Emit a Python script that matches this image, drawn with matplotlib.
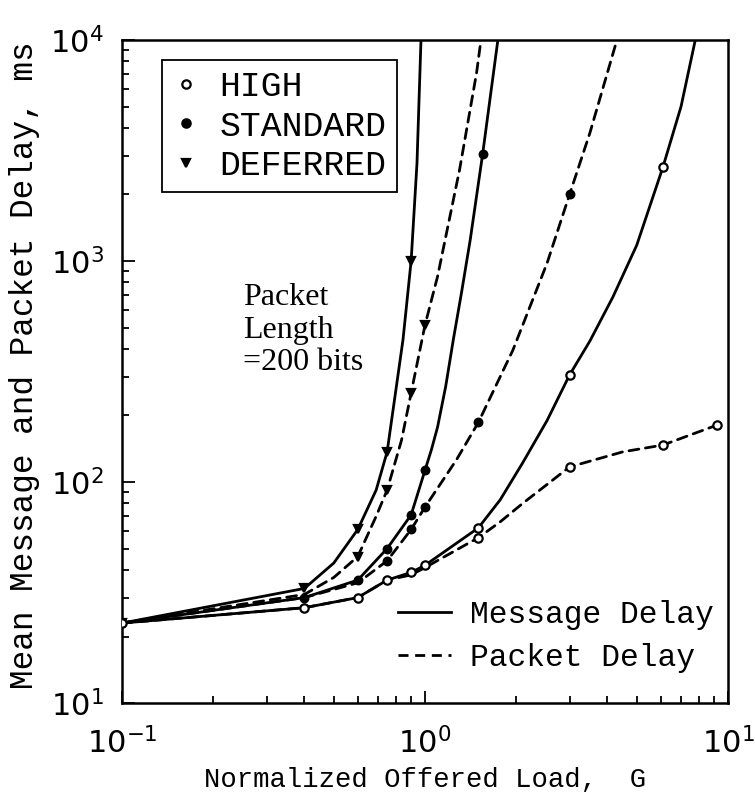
import matplotlib
matplotlib.use("Agg")
import matplotlib.pyplot as plt
from matplotlib.lines import Line2D

# ---------------- data ----------------
# DEFERRED priority
def_msg_x = [0.1, 0.4, 0.5, 0.6, 0.69, 0.75, 0.846, 0.9, 0.941, 0.97]
def_msg_y = [23, 33, 43, 61, 92, 137, 440, 1000, 2770, 10000]
def_msg_mx = [0.1, 0.4, 0.6, 0.75, 0.9]
def_msg_my = [23, 33, 61, 137, 1000]

def_pkt_x = [0.1, 0.4, 0.5, 0.6, 0.69, 0.75, 0.837, 0.9, 1.0, 1.1, 1.3, 1.48, 1.53]
def_pkt_y = [23, 31, 37, 46, 70, 92, 155, 253, 513, 850, 2580, 7100, 10000]
def_pkt_mx = [0.6, 0.75, 0.9, 1.0]
def_pkt_my = [46, 92, 253, 513]

# STANDARD priority
std_msg_x = [0.1, 0.4, 0.6, 0.75, 0.9, 1.0, 1.05, 1.1, 1.17, 1.24, 1.32, 1.41, 1.55, 1.74]
std_msg_y = [23, 30, 36, 50, 71, 113, 140, 177, 270, 440, 720, 1245, 3050, 10000]
std_msg_mx = [0.4, 0.6, 0.75, 0.9, 1.0, 1.55]
std_msg_my = [30, 36, 50, 71, 113, 3050]

std_pkt_x = [0.1, 0.4, 0.6, 0.75, 0.9, 1.0, 1.27, 1.5, 1.95, 2.53, 3.0, 3.5, 4.3]
std_pkt_y = [23, 30, 35, 44, 61, 77, 126, 186, 395, 980, 2000, 3790, 10000]
std_pkt_mx = [0.75, 0.9, 1.0, 1.5, 3.0]
std_pkt_my = [44, 61, 77, 186, 2000]

# HIGH priority
hi_msg_x = [0.1, 0.4, 0.6, 0.75, 0.9, 1.0, 1.5, 1.77, 2.1, 2.53, 3.0, 3.5, 4.17, 5.0, 6.1, 7.0, 7.8]
hi_msg_y = [23, 27, 30, 36, 39, 42, 62, 83, 122, 190, 305, 434, 687, 1180, 2660, 5000, 10000]
hi_msg_mx = [0.1, 0.4, 0.6, 0.75, 0.9, 1.0, 1.5, 3.0, 6.1]
hi_msg_my = [23, 27, 30, 36, 39, 42, 62, 305, 2660]

hi_pkt_x = [0.1, 0.4, 0.6, 0.75, 0.9, 1.0, 1.5, 1.77, 2.1, 3.0, 4.5, 6.1, 9.2]
hi_pkt_y = [23, 27, 30, 36, 38, 41, 56, 66, 80, 117, 137, 147, 181]
hi_pkt_mx = [1.5, 3.0, 6.1, 9.2]
hi_pkt_my = [56, 117, 147, 181]

priority_labels = ["HIGH", "STANDARD", "DEFERRED"]
delay_labels = ["Message Delay", "Packet Delay"]
x_label = "Normalized Offered Load,  G"
y_label = "Mean Message and Packet Delay, ms"
note_text = "Packet\nLength\n=200 bits"

# ---------------- styling ----------------
MONO = ["Liberation Mono", "DejaVu Sans Mono"]
SERIF = ["Liberation Serif", "DejaVu Serif"]
LW = 2.0
DASH = (0, (3.6, 2.4))

fig = plt.figure(figsize=(7.55, 7.97), dpi=100)
ax = fig.add_axes([0.1616, 0.1179, 0.9642 - 0.1616, 0.9498 - 0.1179])
ax.set_xscale("log")
ax.set_yscale("log")
ax.set_xlim(0.1, 10)
ax.set_ylim(10, 1e4)

def draw(x, y, mx, my, ls, marker, filled, ms):
    ax.plot(x, y, color="black", lw=LW, linestyle=ls, solid_capstyle="round",
            solid_joinstyle="round", dash_capstyle="round", zorder=2)
    ax.plot(mx, my, linestyle="none", marker=marker, ms=ms, mew=1.6,
            mec="black", mfc="black" if filled else "white", zorder=3)

draw(def_msg_x, def_msg_y, def_msg_mx, def_msg_my, "-", "v", True, 6)
draw(def_pkt_x, def_pkt_y, def_pkt_mx, def_pkt_my, DASH, "v", True, 6)
draw(std_msg_x, std_msg_y, std_msg_mx, std_msg_my, "-", "o", True, 5.5)
draw(std_pkt_x, std_pkt_y, std_pkt_mx, std_pkt_my, DASH, "o", True, 5.5)
draw(hi_msg_x, hi_msg_y, hi_msg_mx, hi_msg_my, "-", "o", False, 6)
draw(hi_pkt_x, hi_pkt_y, hi_pkt_mx, hi_pkt_my, DASH, "o", False, 6)

for s in ax.spines.values():
    s.set_linewidth(1.8)
ax.tick_params(which="both", direction="in", top=False, right=False, width=1.3)
ax.tick_params(which="major", length=9, labelsize=22)
ax.tick_params(axis="x", which="major", pad=17)
ax.tick_params(axis="y", which="major", pad=13)
ax.tick_params(which="minor", length=5)

ax.set_xlabel(x_label, family=MONO, fontsize=19.6)
ax.xaxis.set_label_coords(0.5, -0.096)
ax.set_ylabel(y_label, family=MONO, fontsize=23.6)
ax.yaxis.set_label_coords(-0.135, 0.51)

# priority legend (markers)
h1 = [Line2D([], [], ls="none", marker="o", ms=6, mew=1.6, mec="black", mfc="white"),
      Line2D([], [], ls="none", marker="o", ms=6, mew=1.6, mec="black", mfc="black"),
      Line2D([], [], ls="none", marker="v", ms=6, mew=1.6, mec="black", mfc="black")]
leg1 = ax.legend(h1, priority_labels, loc="upper left", bbox_to_anchor=(0.066, 0.97),
                 prop={"family": MONO, "size": 25}, frameon=True, fancybox=False,
                 edgecolor="black", framealpha=1, borderpad=0.3, labelspacing=0.18,
                 handlelength=0.8, handletextpad=0.55, borderaxespad=0)
leg1.get_frame().set_linewidth(1.3)
ax.add_artist(leg1)

# line-style legend
h2 = [Line2D([], [], color="black", lw=LW, ls="-"),
      Line2D([], [], color="black", lw=LW, ls=DASH)]
leg2 = ax.legend(h2, delay_labels, loc="lower left", bbox_to_anchor=(0.435, 0.027),
                 prop={"family": MONO, "size": 22.5}, frameon=False,
                 handlelength=1.7, handletextpad=0.6, labelspacing=0.42,
                 borderaxespad=0)

ax.text(0.2, 0.5626, note_text, transform=ax.transAxes, family=SERIF, fontsize=23,
        ha="left", va="center", linespacing=1.17)

fig.savefig("out.png", dpi=100)
